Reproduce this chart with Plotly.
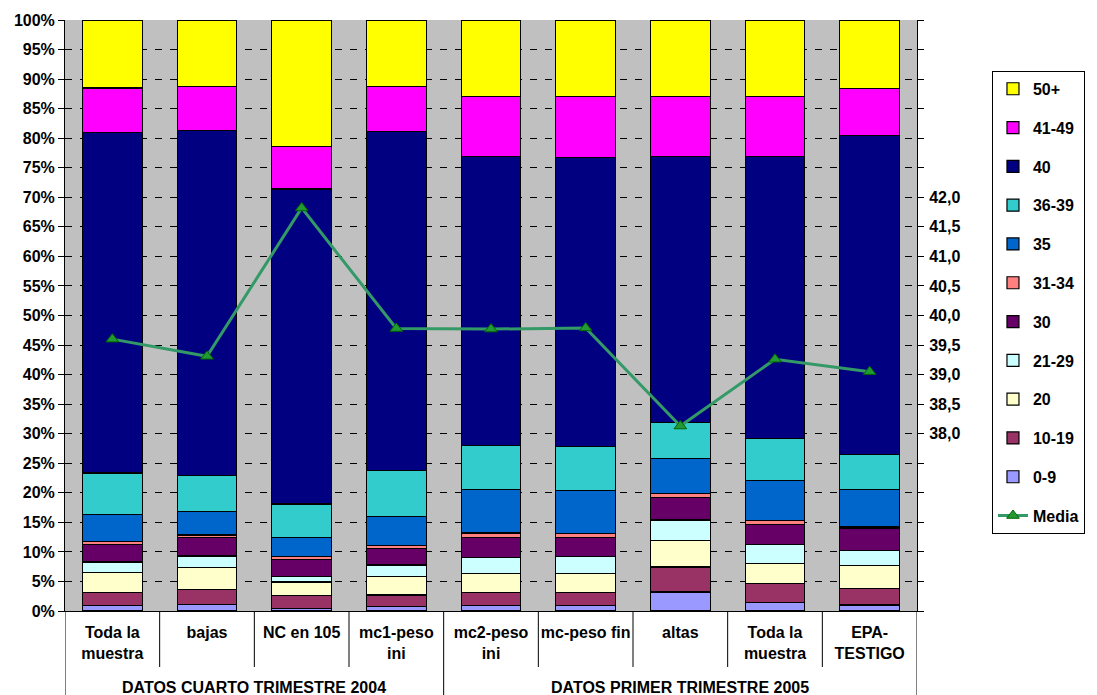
import plotly.graph_objects as go

# Categories along the x axis and the period each block belongs to
categories = ["Toda la<br>muestra", "bajas", "NC en 105", "mc1-peso<br>ini",
              "mc2-peso<br>ini", "mc-peso fin", "altas", "Toda la<br>muestra",
              "EPA-<br>TESTIGO"]
periods = ["DATOS CUARTO TRIMESTRE 2004", "DATOS PRIMER TRIMESTRE 2005"]
period_sizes = [4, 5]

# Share of workers (%) by weekly hours band
s_0_9 = [0.95, 1.07, 0.45, 0.73, 0.9, 0.9, 3.2, 1.5, 1.0]
s_10_19 = [2.15, 2.6, 2.15, 1.97, 2.25, 2.25, 4.25, 3.1, 2.8]
s_20 = [3.4, 3.66, 2.3, 3.2, 3.15, 3.25, 4.5, 3.5, 3.9]
s_21_29 = [1.8, 1.97, 1.0, 1.9, 2.8, 2.8, 3.45, 3.1, 2.5]
s_30 = [3.0, 3.17, 2.85, 2.8, 3.4, 3.3, 3.8, 3.5, 3.7]
s_31_34 = [0.4, 0.39, 0.45, 0.45, 0.7, 0.6, 0.7, 0.6, 0.3]
s_35 = [4.6, 4.04, 3.2, 4.95, 7.4, 7.3, 5.9, 6.8, 6.3]
s_36_39 = [7.05, 6.05, 5.7, 7.8, 7.4, 7.5, 6.1, 7.1, 5.95]
s_40 = [57.65, 58.35, 53.3, 57.4, 48.9, 48.9, 45.0, 47.65, 53.95]
s_41_49 = [7.5, 7.4, 7.2, 7.6, 10.2, 10.3, 10.2, 10.25, 8.0]
s_50 = [11.5, 11.3, 21.4, 11.2, 12.9, 12.9, 12.9, 12.9, 11.6]

# Mean weekly hours (right axis)
media = [39.60, 39.31, 41.82, 39.78, 39.77, 39.79, 38.13, 39.26, 39.05]

# Axis ticks
pct_ticks = list(range(0, 101, 5))
media_ticks = [38.0, 38.5, 39.0, 39.5, 40.0, 40.5, 41.0, 41.5, 42.0]

bands = [
    ("0-9", s_0_9, "#9999FF"),
    ("10-19", s_10_19, "#993366"),
    ("20", s_20, "#FFFFCC"),
    ("21-29", s_21_29, "#CCFFFF"),
    ("30", s_30, "#660066"),
    ("31-34", s_31_34, "#FF8080"),
    ("35", s_35, "#0066CC"),
    ("36-39", s_36_39, "#33CCCC"),
    ("40", s_40, "#000080"),
    ("41-49", s_41_49, "#FF00FF"),
    ("50+", s_50, "#FFFF00"),
]

FONT = "Liberation Sans"
txt = dict(family=FONT, size=16, color="black", weight="bold")


def b(s):
    return "<b>" + s + "</b>"


x = list(range(len(categories)))

fig = go.Figure()
for i, (name, vals, color) in enumerate(bands):
    fig.add_trace(go.Bar(
        x=x, y=vals, name=b(name), legendgroup=name,
        legendrank=len(bands) - i,
        marker=dict(color=color, line=dict(color="black", width=1.2)),
    ))

fig.add_trace(go.Scatter(
    x=x, y=media, name=b("Media"), yaxis="y2", legendgroup="Media",
    legendrank=len(bands) + 1, mode="lines+markers",
    line=dict(color="#339966", width=3),
    marker=dict(symbol="triangle-up", size=11, color="#229933",
                line=dict(color="#006600", width=1)),
))

# Divider lines under the category labels
plot_h = 695 - 20 - 84
shapes = []
edges = [-0.5]
for n in period_sizes:
    edges.append(edges[-1] + n)
for k in range(1, len(categories)):
    pos = k - 0.5
    if pos in edges:
        continue
    shapes.append(dict(type="line", xref="x", yref="paper", x0=pos, x1=pos,
                       y0=0, y1=-56 / plot_h, line=dict(color="black", width=1)))
for pos in edges:
    shapes.append(dict(type="line", xref="x", yref="paper", x0=pos, x1=pos,
                       y0=0, y1=-84 / plot_h, line=dict(color="black", width=1)))

annotations = []
for k, label in enumerate(periods):
    annotations.append(dict(
        text=b(label), xref="x", yref="paper",
        x=(edges[k] + edges[k + 1]) / 2, y=-76 / plot_h,
        showarrow=False, yanchor="middle", xanchor="center", font=txt,
    ))

fig.update_layout(
    width=1097, height=695,
    margin=dict(l=65, r=180, t=20, b=84, autoexpand=False),
    barmode="stack", barnorm="percent", bargap=0.37,
    plot_bgcolor="#C0C0C0", paper_bgcolor="white",
    font=txt,
    shapes=shapes, annotations=annotations,
    legend=dict(
        x=1.088, y=0.914, xanchor="left", yanchor="top",
        bordercolor="black", borderwidth=1, bgcolor="white",
        traceorder="grouped", tracegroupgap=15, font=txt,
    ),
    xaxis=dict(
        range=[-0.5, len(categories) - 0.5], tickvals=x,
        ticktext=[b(c) for c in categories],
        ticks="", showline=True, linecolor="black", linewidth=1,
        showgrid=False, zeroline=False, ticklabelstandoff=7, tickfont=txt,
    ),
    yaxis=dict(
        range=[0, 100], tickvals=pct_ticks,
        ticktext=[b(f"{v}%") for v in pct_ticks],
        ticks="outside", ticklen=6,
        tickcolor="black", showline=True, linecolor="black", linewidth=1,
        showgrid=True, gridcolor="black", gridwidth=1, griddash="7px,8px",
        zeroline=False, tickfont=txt,
    ),
    yaxis2=dict(
        overlaying="y", side="right", range=[35, 45],
        tickvals=media_ticks,
        ticktext=[b(f"{v:.1f}".replace(".", ",")) for v in media_ticks],
        ticks="outside", ticklen=6,
        tickcolor="black", showline=True, linecolor="black", linewidth=1,
        showgrid=False, zeroline=False, ticklabelstandoff=2, tickfont=txt,
        minor=dict(dtick=0.5, ticks="outside", ticklen=6, tickcolor="black"),
    ),
)

fig.write_html("out.html")
